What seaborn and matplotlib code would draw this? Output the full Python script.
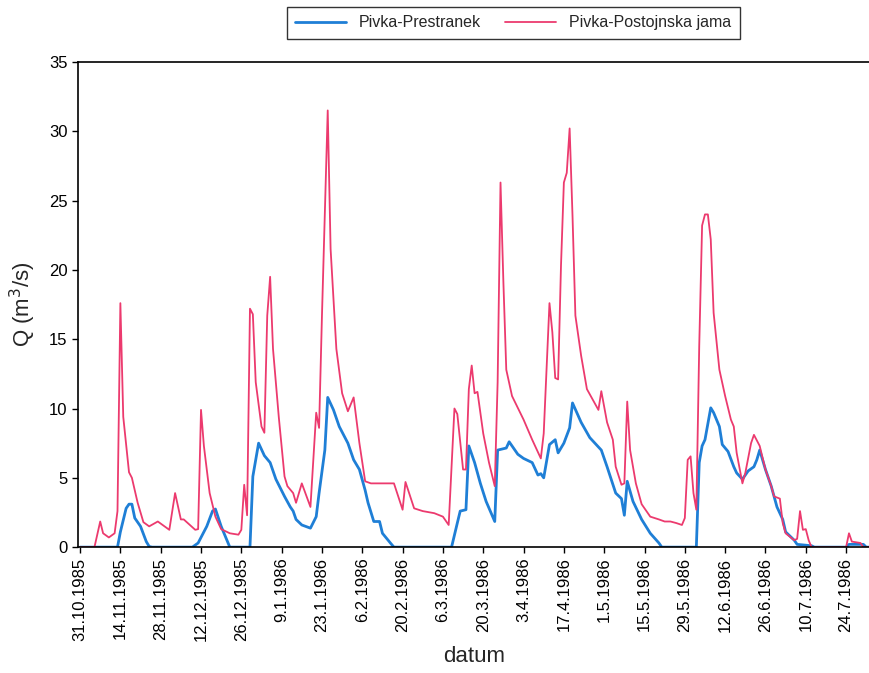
import pandas as pd
import numpy as np
import matplotlib
matplotlib.use("Agg")
import matplotlib.pyplot as plt
import seaborn as sns

START = pd.Timestamp("1985-10-31")

# dnevi od 31.10.1985 in pretoki (m3/s), odcitano z grafa
prestranek_dan = [0, 13, 14, 16, 17, 18, 19, 21, 23, 24, 25, 39, 41, 43, 44, 46, 47, 49, 51, 52,
                  59, 60, 61, 62, 64, 66, 68, 71, 73, 74, 75, 77, 80, 82, 83, 85, 86, 88, 90, 93,
                  95, 97, 99, 100, 102, 104, 105, 108, 109, 129, 131, 132, 134, 135, 137, 139, 141, 144, 145, 148,
                  149, 152, 154, 157, 159, 160, 161, 163, 165, 166, 168, 170, 171, 174, 177, 181, 183, 186, 188, 189,
                  190, 192, 195, 198, 201, 202, 214, 215, 216, 217, 219, 220, 222, 223, 225, 227, 228, 230, 232, 234,
                  235, 236, 238, 240, 242, 244, 245, 248, 249, 254, 255, 266, 267, 272, 273, 275]
prestranek_q = [0, 0, 1.1, 2.8, 3.1, 3.1, 2.1, 1.5, 0.4, 0.05, 0, 0, 0.3, 1.1, 1.5, 2.6, 2.75, 1.5, 0.5, 0,
                0, 5.1, 6.3, 7.5, 6.6, 6.1, 4.9, 3.66, 2.9, 2.6, 2.0, 1.6, 1.37, 2.2, 3.9, 7.0, 10.8, 9.9, 8.7, 7.5,
                6.3, 5.6, 4.1, 3.2, 1.85, 1.85, 1.0, 0.24, 0, 0, 1.74, 2.6, 2.7, 7.3, 6.1, 4.6, 3.3, 1.85, 7.0, 7.15,
                7.6, 6.7, 6.4, 6.1, 5.2, 5.3, 5.0, 7.4, 7.75, 6.8, 7.5, 8.6, 10.4, 9.0, 7.9, 7.0, 5.8, 3.9, 3.5, 2.3,
                4.75, 3.3, 2.0, 1.0, 0.3, 0, 0, 6.1, 7.3, 7.75, 10.05, 9.7, 8.7, 7.4, 6.9, 5.8, 5.35, 4.9, 5.5, 5.8,
                6.3, 7.0, 5.6, 4.4, 2.9, 2.0, 1.1, 0.5, 0.2, 0.1, 0, 0, 0.2, 0.2, 0, 0]

jama_dan = [0, 5, 7, 8, 10, 12, 13, 14, 15, 17, 18, 20, 22, 24, 27, 31, 33, 35, 36, 40,
            41, 42, 43, 45, 47, 49, 52, 55, 56, 57, 58, 59, 60, 61, 63, 64, 65, 66, 67, 69,
            71, 72, 74, 75, 77, 80, 82, 83, 84, 86, 87, 89, 91, 93, 95, 97, 99, 101, 109, 112,
            113, 116, 119, 123, 126, 128, 130, 131, 133, 134, 135, 136, 137, 138, 140, 142, 144, 145, 146, 147,
            148, 150, 154, 157, 160, 161, 163, 164, 165, 166, 167, 168, 169, 170, 171, 172, 174, 176, 180, 181,
            183, 185, 186, 188, 189, 190, 191, 193, 195, 198, 201, 203, 205, 207, 209, 210, 211, 212, 213, 214,
            215, 216, 217, 218, 219, 220, 222, 224, 226, 227, 228, 230, 231, 233, 234, 236, 238, 240, 241, 243,
            244, 245, 248, 249, 250, 251, 252, 253, 254, 266, 267, 268, 271, 272, 275]
jama_q = [0, 0, 1.85, 1.0, 0.7, 1.0, 2.6, 17.6, 9.4, 5.4, 5.0, 3.2, 1.8, 1.5, 1.85, 1.25, 3.9, 2.0, 2.0, 1.25,
          1.3, 9.9, 7.3, 3.9, 2.2, 1.3, 1.0, 0.9, 1.25, 4.5, 2.3, 17.2, 16.8, 11.9, 8.7, 8.25, 16.7, 19.5, 14.3, 9.4,
          5.1, 4.4, 3.9, 3.2, 4.6, 2.9, 9.7, 8.6, 16.7, 31.5, 21.5, 14.3, 11.1, 9.8, 10.8, 7.5, 4.75, 4.6, 4.6, 2.7,
          4.7, 2.8, 2.6, 2.45, 2.2, 1.6, 10.0, 9.6, 5.6, 5.6, 11.4, 13.1, 11.1, 11.2, 8.2, 6.1, 4.4, 11.9, 26.3, 19.1,
          12.8, 10.9, 9.2, 7.75, 6.4, 8.2, 17.6, 15.5, 12.2, 12.1, 20.3, 26.3, 27.0, 30.2, 23.9, 16.7, 13.8, 11.4, 9.9, 11.25,
          9.0, 7.75, 5.8, 4.5, 4.6, 10.5, 7.0, 4.6, 3.1, 2.2, 2.0, 1.85, 1.85, 1.74, 1.6, 2.1, 6.3, 6.55, 3.9, 2.7,
          14.5, 23.2, 24.0, 24.0, 22.2, 16.9, 12.8, 10.9, 9.2, 8.7, 6.8, 4.6, 5.35, 7.5, 8.1, 7.3, 5.6, 4.4, 3.66, 3.5,
          1.74, 1.0, 0.5, 0.6, 2.6, 1.25, 1.3, 0.5, 0, 0, 1.0, 0.4, 0.3, 0, 0]

tick_labels = ["31.10.1985", "14.11.1985", "28.11.1985", "12.12.1985", "26.12.1985",
               "9.1.1986", "23.1.1986", "6.2.1986", "20.2.1986", "6.3.1986",
               "20.3.1986", "3.4.1986", "17.4.1986", "1.5.1986", "15.5.1986",
               "29.5.1986", "12.6.1986", "26.6.1986", "10.7.1986", "24.7.1986"]

names = ["Pivka-Prestranek", "Pivka-Postojnska jama"]
colors = ["#1f7fd6", "#ec3a6e"]

df = pd.concat([
    pd.DataFrame({"datum": START + pd.to_timedelta(prestranek_dan, unit="D"),
                  "Q": prestranek_q, "postaja": names[0]}),
    pd.DataFrame({"datum": START + pd.to_timedelta(jama_dan, unit="D"),
                  "Q": jama_q, "postaja": names[1]}),
])

sns.set_style("ticks")
plt.rcParams["font.family"] = ["Liberation Sans", "DejaVu Sans"]

fig = plt.figure(figsize=(8.7, 6.73), dpi=100)
ax = fig.add_axes([0.0897, 0.187, 0.9103, 0.721])

sns.lineplot(data=df[df.postaja == names[0]], x="datum", y="Q", color=colors[0],
             lw=2.0, ax=ax, label=names[0])
sns.lineplot(data=df[df.postaja == names[1]], x="datum", y="Q", color=colors[1],
             lw=1.3, ax=ax, label=names[1])

ax.set_xlim(START - pd.Timedelta(days=0.7), START + pd.Timedelta(days=274.3))
ax.set_ylim(0, 35)
ax.set_yticks(np.arange(0, 36, 5))
ticks = pd.to_datetime(tick_labels, format="%d.%m.%Y")
ax.set_xticks(ticks)
ax.set_xticklabels(tick_labels, rotation=90, fontsize=12)
ax.tick_params(axis="y", labelsize=12, length=4, width=1, colors="black")
ax.tick_params(axis="x", length=4, width=1, colors="black")
ax.set_xlabel("datum", fontsize=16, labelpad=4)
ax.set_ylabel("Q (m$^3$/s)", fontsize=16, labelpad=8)

for s in ["left", "bottom", "top"]:
    ax.spines[s].set_visible(True)
    ax.spines[s].set_color("black")
    ax.spines[s].set_linewidth(1.2)
ax.spines["right"].set_visible(False)

ax.get_legend().remove()
h, l = ax.get_legend_handles_labels()
leg = fig.legend(h, l, loc="center", bbox_to_anchor=(0.59, 0.966), ncol=2,
                 fontsize=11.5, frameon=True, fancybox=False, edgecolor="black",
                 handlelength=3.2, columnspacing=1.5, borderpad=0.55)
leg.get_frame().set_linewidth(1.0)

fig.savefig("out.png", dpi=100)
